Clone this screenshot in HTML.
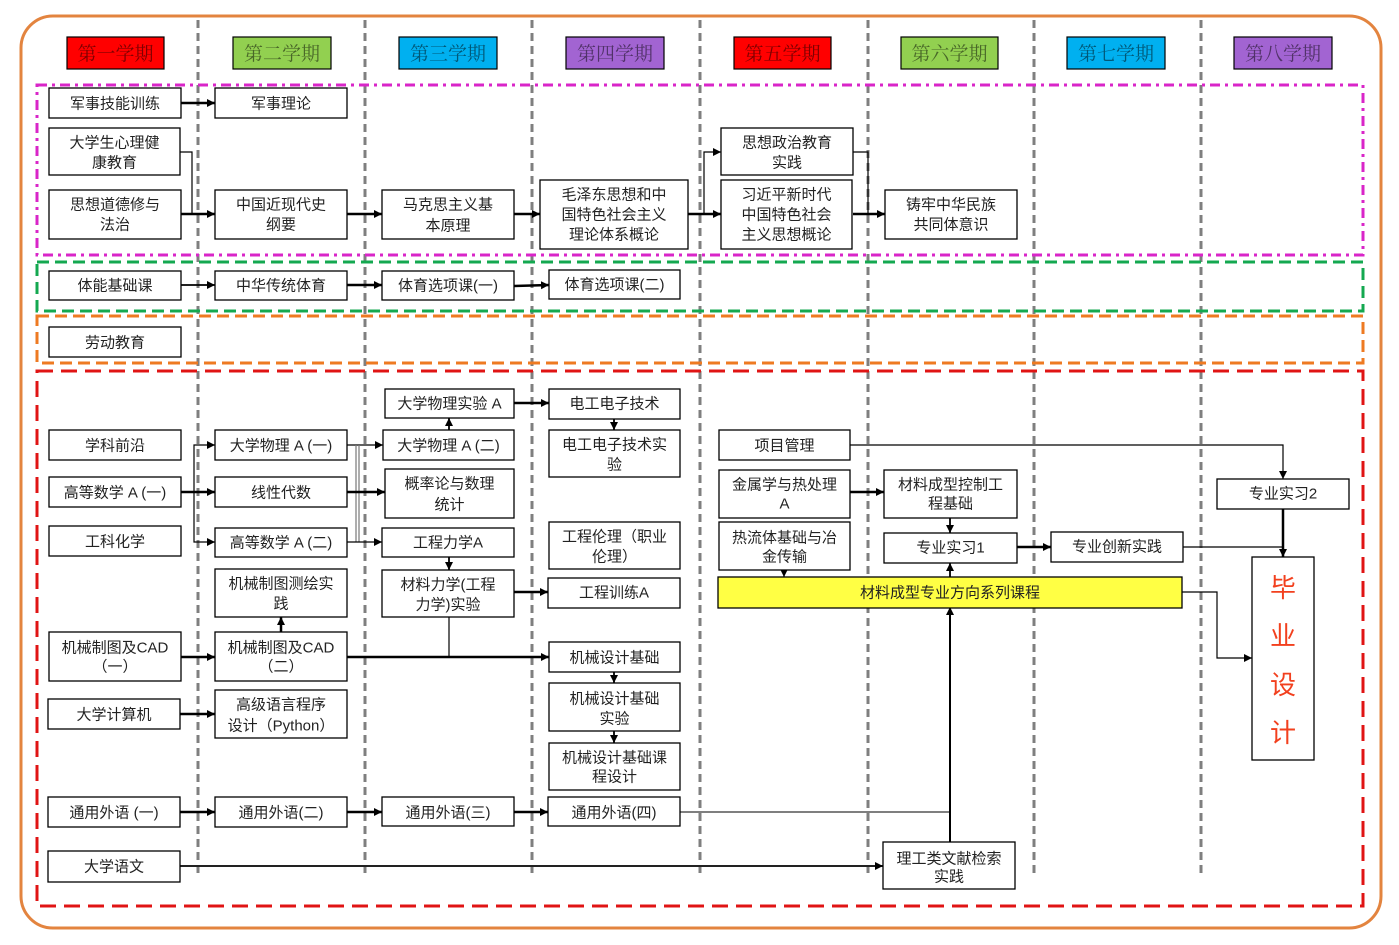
<!DOCTYPE html>
<html>
<head>
<meta charset="utf-8">
<style>
html,body{margin:0;padding:0;background:#fff;}
svg{display:block;}
.n{fill:#fff;stroke:#000;stroke-width:1.3;}
.t{font-family:"Liberation Sans","Noto Sans CJK SC",sans-serif;font-size:15px;fill:#222;text-anchor:middle;}
.h{font-family:"Liberation Serif","Noto Serif CJK SC",serif;font-size:19px;fill:rgba(0,0,0,0.5);text-anchor:middle;}
.k{fill:none;stroke:#000;stroke-width:2.5;}
.s{fill:none;stroke:#000;stroke-width:1.2;}
.g{fill:none;stroke:#7f7f7f;stroke-width:3;stroke-dasharray:8 5;}
</style>
</head>
<body>
<svg width="1399" height="945" viewBox="0 0 1399 945" xmlns="http://www.w3.org/2000/svg">
<defs>
<marker id="a" markerUnits="userSpaceOnUse" markerWidth="10" markerHeight="10" refX="8" refY="4" orient="auto">
<path d="M0,0 L8,4 L0,8 Z" fill="#000"/>
</marker>
</defs>

<!-- outer frame -->
<rect x="21" y="16" width="1360" height="912" rx="32" ry="32" fill="none" stroke="#E3843F" stroke-width="3"/>

<!-- vertical dashed separators -->
<line class="g" x1="198" y1="20" x2="198" y2="875"/>
<line class="g" x1="365" y1="20" x2="365" y2="875"/>
<line class="g" x1="532" y1="20" x2="532" y2="875"/>
<line class="g" x1="700" y1="20" x2="700" y2="875"/>
<line class="g" x1="868" y1="20" x2="868" y2="875"/>
<line class="g" x1="1034" y1="20" x2="1034" y2="875"/>
<line class="g" x1="1201" y1="20" x2="1201" y2="875"/>

<!-- group boxes -->
<rect x="37" y="85" width="1326" height="170" fill="none" stroke="#D925C8" stroke-width="3" stroke-dasharray="10 5 3 5"/>
<rect x="37" y="262" width="1326" height="49" fill="none" stroke="#14A850" stroke-width="3" stroke-dasharray="12 6"/>
<rect x="37" y="316" width="1326" height="47" fill="none" stroke="#EE7A22" stroke-width="3" stroke-dasharray="12 6"/>
<rect x="37" y="371" width="1326" height="535" fill="none" stroke="#E01414" stroke-width="3" stroke-dasharray="16 8"/>

<!-- headers -->
<rect x="67" y="37" width="97" height="32" fill="#FF0000" stroke="#000" stroke-width="1.2"/>
<text class="h" x="115.5" y="60">第一学期</text>
<rect x="233" y="37" width="98" height="32" fill="#92D050" stroke="#000" stroke-width="1.2"/>
<text class="h" x="282" y="60">第二学期</text>
<rect x="399" y="37" width="98" height="32" fill="#00B0F0" stroke="#000" stroke-width="1.2"/>
<text class="h" x="448" y="60">第三学期</text>
<rect x="566" y="37" width="98" height="32" fill="#A264D2" stroke="#000" stroke-width="1.2"/>
<text class="h" x="615" y="60">第四学期</text>
<rect x="734" y="37" width="97" height="32" fill="#FF0000" stroke="#000" stroke-width="1.2"/>
<text class="h" x="782.5" y="60">第五学期</text>
<rect x="901" y="37" width="97" height="32" fill="#92D050" stroke="#000" stroke-width="1.2"/>
<text class="h" x="949.5" y="60">第六学期</text>
<rect x="1067" y="37" width="98" height="32" fill="#00B0F0" stroke="#000" stroke-width="1.2"/>
<text class="h" x="1116" y="60">第七学期</text>
<rect x="1234" y="37" width="98" height="32" fill="#A264D2" stroke="#000" stroke-width="1.2"/>
<text class="h" x="1283" y="60">第八学期</text>

<!-- connectors -->
<path class="k" d="M181,103 H215" marker-end="url(#a)"/>
<path class="s" d="M180,152 H192 V214"/>
<path class="k" d="M181,214 H215" marker-end="url(#a)"/>
<path class="k" d="M347,214 H382" marker-end="url(#a)"/>
<path class="k" d="M514,214 H540" marker-end="url(#a)"/>
<path class="k" d="M688,214 H721" marker-end="url(#a)"/>
<path class="s" d="M704,214 V152 H721" marker-end="url(#a)"/>
<path class="s" d="M853,152 H868 V214"/>
<path class="k" d="M853,214 H885" marker-end="url(#a)"/>

<path class="s" style="stroke-width:1.8" d="M181,285 H215" marker-end="url(#a)"/>
<path class="k" d="M347,285 H382" marker-end="url(#a)"/>
<path class="k" d="M514,286 L549,285" marker-end="url(#a)"/>

<path class="k" d="M514,403 H549" marker-end="url(#a)"/>
<path class="s" style="stroke-width:1.8" d="M449,430 V418" marker-end="url(#a)"/>
<path class="s" style="stroke-width:1.8" d="M614,419 V430" marker-end="url(#a)"/>

<path class="k" d="M181,492 H215" marker-end="url(#a)"/>
<path class="s" d="M194,492 V445 H215" marker-end="url(#a)"/>
<path class="s" d="M194,492 V542 H215" marker-end="url(#a)"/>

<path class="s" d="M347,445 H383" marker-end="url(#a)"/>
<line x1="356" y1="445" x2="356" y2="542" stroke="#777" stroke-width="1.2"/>
<line x1="359" y1="445" x2="359" y2="542" stroke="#777" stroke-width="1.2"/>
<path class="s" d="M347,542 H382" marker-end="url(#a)"/>
<path class="k" d="M347,492 H385" marker-end="url(#a)"/>

<path class="s" style="stroke-width:1.8" d="M449,557 V570" marker-end="url(#a)"/>
<path class="k" d="M514,592 H548" marker-end="url(#a)"/>
<path class="s" d="M449,617 V657"/>
<path class="k" d="M181,657 H215" marker-end="url(#a)"/>
<path class="k" d="M347,657 H549" marker-end="url(#a)"/>
<path class="k" d="M281,632 V617" marker-end="url(#a)"/>
<path class="s" style="stroke-width:1.8" d="M614,672 V683" marker-end="url(#a)"/>
<path class="s" style="stroke-width:1.8" d="M614,731 V743" marker-end="url(#a)"/>
<path class="k" d="M180,714 H215" marker-end="url(#a)"/>

<path class="k" d="M180,812 H215" marker-end="url(#a)"/>
<path class="k" d="M347,812 H382" marker-end="url(#a)"/>
<path class="k" d="M514,812 H548" marker-end="url(#a)"/>
<path d="M680,812 H950" fill="none" stroke="#7f7f7f" stroke-width="2"/>
<path class="k" style="stroke-width:2" d="M950,842 V607" marker-end="url(#a)"/>
<path class="k" style="stroke-width:2;stroke:#222" d="M180,866 H883" marker-end="url(#a)"/>

<path class="s" d="M850,445 H1283 V479" marker-end="url(#a)"/>
<path class="k" d="M850,492 H884" marker-end="url(#a)"/>
<path class="s" style="stroke-width:1.8" d="M950,518 V533" marker-end="url(#a)"/>
<path class="s" d="M784,570 V577" marker-end="url(#a)"/>
<path class="s" style="stroke-width:1.8" d="M950,577 V563" marker-end="url(#a)"/>
<path class="k" d="M1017,547 H1051" marker-end="url(#a)"/>
<path class="s" d="M1183,547 H1283"/>
<path class="k" d="M1283,509 V557" marker-end="url(#a)"/>
<path class="s" d="M1182,592 H1217 V658 H1252" marker-end="url(#a)"/>

<!-- nodes -->
<rect class="n" x="49" y="88" width="132" height="30"/><text class="t" x="115" y="108.5">军事技能训练</text>
<rect class="n" x="49" y="128" width="131" height="47"/><text class="t" x="114.5" y="147.5">大学生心理健</text><text class="t" x="114.5" y="167.5">康教育</text>
<rect class="n" x="49" y="190" width="132" height="49"/><text class="t" x="115" y="209.5">思想道德修与</text><text class="t" x="115" y="229.5">法治</text>
<rect class="n" x="215" y="88" width="132" height="30"/><text class="t" x="281" y="108.5">军事理论</text>
<rect class="n" x="215" y="190" width="132" height="49"/><text class="t" x="281" y="209.5">中国近现代史</text><text class="t" x="281" y="229.5">纲要</text>
<rect class="n" x="382" y="190" width="132" height="49"/><text class="t" x="448" y="209.5">马克思主义基</text><text class="t" x="448" y="230.5">本原理</text>
<rect class="n" x="540" y="180" width="148" height="69"/><text class="t" x="614" y="199.5">毛泽东思想和中</text><text class="t" x="614" y="219.5">国特色社会主义</text><text class="t" x="614" y="239.5">理论体系概论</text>
<rect class="n" x="721" y="128" width="132" height="47"/><text class="t" x="787" y="147.5">思想政治教育</text><text class="t" x="787" y="167.5">实践</text>
<rect class="n" x="721" y="180" width="131" height="69"/><text class="t" x="786.5" y="199.5">习近平新时代</text><text class="t" x="786.5" y="219.5">中国特色社会</text><text class="t" x="786.5" y="239.5">主义思想概论</text>
<rect class="n" x="885" y="190" width="132" height="49"/><text class="t" x="951" y="209.5">铸牢中华民族</text><text class="t" x="951" y="229.5">共同体意识</text>

<rect class="n" x="49" y="271" width="132" height="29"/><text class="t" x="115" y="290.5">体能基础课</text>
<rect class="n" x="215" y="271" width="132" height="29"/><text class="t" x="281" y="290.5">中华传统体育</text>
<rect class="n" x="382" y="271" width="132" height="29"/><text class="t" x="448" y="290.5">体育选项课(一)</text>
<rect class="n" x="549" y="270" width="131" height="29"/><text class="t" x="614.5" y="289.5">体育选项课(二)</text>
<rect class="n" x="49" y="327" width="132" height="30"/><text class="t" x="115" y="347.5">劳动教育</text>

<rect class="n" x="49" y="430" width="132" height="30"/><text class="t" x="115" y="450.5">学科前沿</text>
<rect class="n" x="49" y="477" width="132" height="30"/><text class="t" x="115" y="497.5">高等数学 A (一)</text>
<rect class="n" x="49" y="526" width="132" height="30"/><text class="t" x="115" y="546.5">工科化学</text>
<rect class="n" x="49" y="632" width="132" height="49"/><text class="t" x="115" y="652.5">机械制图及CAD</text><text class="t" x="115" y="671.5">（一）</text>
<rect class="n" x="48" y="699" width="132" height="30"/><text class="t" x="114" y="719.5">大学计算机</text>
<rect class="n" x="48" y="797" width="132" height="30"/><text class="t" x="114" y="817.5">通用外语 (一)</text>
<rect class="n" x="48" y="851" width="132" height="31"/><text class="t" x="114" y="871.5">大学语文</text>

<rect class="n" x="215" y="430" width="132" height="30"/><text class="t" x="281" y="450.5">大学物理 A (一)</text>
<rect class="n" x="215" y="477" width="132" height="30"/><text class="t" x="281" y="497.5">线性代数</text>
<rect class="n" x="215" y="528" width="132" height="29"/><text class="t" x="281" y="547.5">高等数学 A (二)</text>
<rect class="n" x="215" y="569" width="132" height="48"/><text class="t" x="281" y="588.5">机械制图测绘实</text><text class="t" x="281" y="608.5">践</text>
<rect class="n" x="215" y="632" width="132" height="49"/><text class="t" x="281" y="652.5">机械制图及CAD</text><text class="t" x="281" y="671.5">（二）</text>
<rect class="n" x="215" y="690" width="132" height="48"/><text class="t" x="281" y="709.5">高级语言程序</text><text class="t" x="281" y="730.5">设计（Python）</text>
<rect class="n" x="215" y="797" width="132" height="30"/><text class="t" x="281" y="817.5">通用外语(二)</text>

<rect class="n" x="385" y="389" width="129" height="29"/><text class="t" x="449.5" y="408.5">大学物理实验 A</text>
<rect class="n" x="383" y="430" width="131" height="30"/><text class="t" x="448.5" y="450.5">大学物理 A (二)</text>
<rect class="n" x="385" y="469" width="129" height="49"/><text class="t" x="449.5" y="488.5">概率论与数理</text><text class="t" x="449.5" y="509.5">统计</text>
<rect class="n" x="382" y="528" width="132" height="29"/><text class="t" x="448" y="547.5">工程力学A</text>
<rect class="n" x="382" y="570" width="132" height="47"/><text class="t" x="448" y="589.5">材料力学(工程</text><text class="t" x="448" y="609.5">力学)实验</text>
<rect class="n" x="382" y="797" width="132" height="29"/><text class="t" x="448" y="817.5">通用外语(三)</text>

<rect class="n" x="549" y="389" width="131" height="30"/><text class="t" x="614.5" y="408.5">电工电子技术</text>
<rect class="n" x="549" y="430" width="131" height="47"/><text class="t" x="614.5" y="449.5">电工电子技术实</text><text class="t" x="614.5" y="469.5">验</text>
<rect class="n" x="549" y="522" width="131" height="47"/><text class="t" x="614.5" y="541.5">工程伦理（职业</text><text class="t" x="614.5" y="561.5">伦理）</text>
<rect class="n" x="548" y="578" width="132" height="30"/><text class="t" x="614" y="597.5">工程训练A</text>
<rect class="n" x="549" y="642" width="131" height="30"/><text class="t" x="614.5" y="662.5">机械设计基础</text>
<rect class="n" x="549" y="683" width="131" height="48"/><text class="t" x="614.5" y="703.5">机械设计基础</text><text class="t" x="614.5" y="723.5">实验</text>
<rect class="n" x="549" y="743" width="131" height="47"/><text class="t" x="614.5" y="762.5">机械设计基础课</text><text class="t" x="614.5" y="781.5">程设计</text>
<rect class="n" x="548" y="797" width="132" height="29"/><text class="t" x="614" y="817.5">通用外语(四)</text>

<rect class="n" x="719" y="430" width="131" height="30"/><text class="t" x="784.5" y="450.5">项目管理</text>
<rect class="n" x="719" y="470" width="131" height="48"/><text class="t" x="784.5" y="489.5">金属学与热处理</text><text class="t" x="784.5" y="508.5">A</text>
<rect class="n" x="719" y="522" width="131" height="48"/><text class="t" x="784.5" y="542.5">热流体基础与冶</text><text class="t" x="784.5" y="561.5">金传输</text>
<rect x="718" y="577" width="464" height="31" fill="#FFFF44" stroke="#000" stroke-width="1.3"/><text class="t" x="950" y="597.5">材料成型专业方向系列课程</text>

<rect class="n" x="884" y="470" width="133" height="48"/><text class="t" x="950.5" y="489.5">材料成型控制工</text><text class="t" x="950.5" y="508.5">程基础</text>
<rect class="n" x="884" y="533" width="133" height="30"/><text class="t" x="950.5" y="552.5">专业实习1</text>
<rect class="n" x="1051" y="532" width="132" height="30"/><text class="t" x="1117" y="551.5">专业创新实践</text>
<rect class="n" x="1217" y="479" width="132" height="30"/><text class="t" x="1283" y="498.5">专业实习2</text>
<rect class="n" x="883" y="842" width="132" height="47"/><text class="t" x="949" y="863.5">理工类文献检索</text><text class="t" x="949" y="881.5">实践</text>

<rect class="n" x="1252" y="557" width="62" height="203"/>
<text x="1283" y="597" style="font-family:'Liberation Sans','Noto Sans CJK SC',sans-serif;font-size:26px;fill:#F2401E;text-anchor:middle;">毕</text>
<text x="1283" y="645" style="font-family:'Liberation Sans','Noto Sans CJK SC',sans-serif;font-size:26px;fill:#F2401E;text-anchor:middle;">业</text>
<text x="1283" y="694" style="font-family:'Liberation Sans','Noto Sans CJK SC',sans-serif;font-size:26px;fill:#F2401E;text-anchor:middle;">设</text>
<text x="1283" y="742" style="font-family:'Liberation Sans','Noto Sans CJK SC',sans-serif;font-size:26px;fill:#F2401E;text-anchor:middle;">计</text>
</svg>
</body>
</html>
